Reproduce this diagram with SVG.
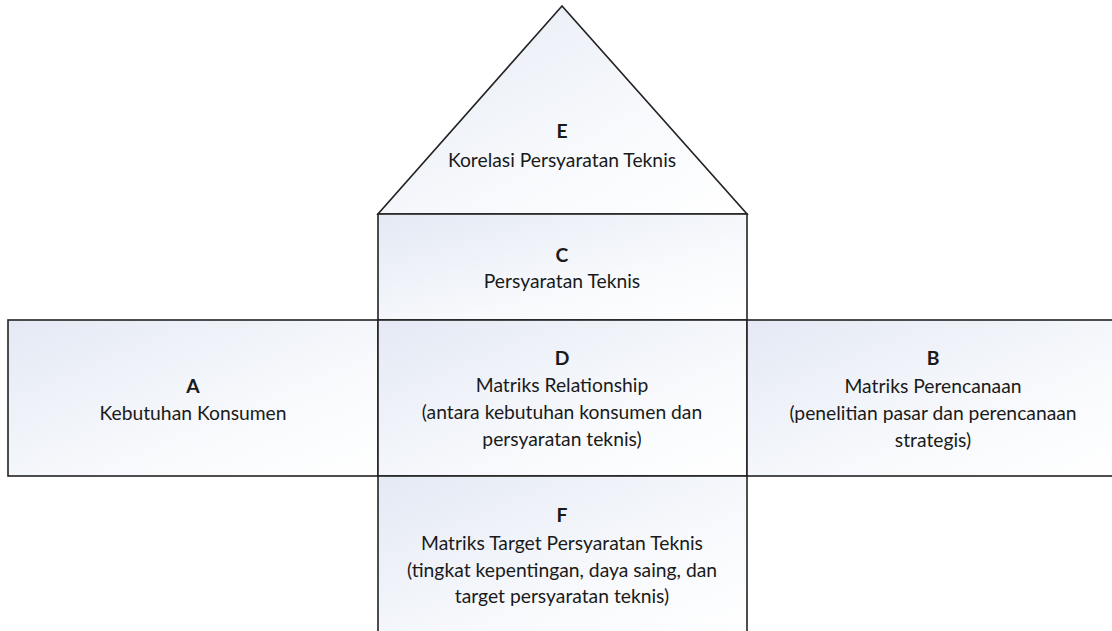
<svg xmlns="http://www.w3.org/2000/svg" width="1112" height="631" viewBox="0 0 1112 631">
  <defs>
    <linearGradient id="fillGrad" x1="0" y1="0" x2="1" y2="1">
      <stop offset="0" stop-color="#e4e9f4"/>
      <stop offset="0.6" stop-color="#f7f9fc"/>
      <stop offset="1" stop-color="#ffffff"/>
    </linearGradient>
  </defs>
  <style>
    .shape { fill: url(#fillGrad); stroke: #222222; stroke-width: 1.6; }
    .t { font-family: Lato, "Open Sans", "Liberation Sans", sans-serif; font-size: 19.3px; fill: #1a1a1a; text-anchor: middle; }
    .b { font-weight: bold; }
  </style>
  <rect width="1112" height="631" fill="#ffffff"/>

  <g id="node-E">
    <polygon class="shape" points="562,6 378,214 747,214"/>
    <text class="t b" x="562" y="138">E</text>
    <text class="t" x="562" y="167">Korelasi Persyaratan Teknis</text>
  </g>

  <g id="node-C">
    <rect class="shape" x="378" y="214" width="369" height="106"/>
    <text class="t b" x="562" y="262">C</text>
    <text class="t" x="562" y="288">Persyaratan Teknis</text>
  </g>

  <g id="node-A">
    <rect class="shape" x="8" y="320" width="370" height="156"/>
    <text class="t b" x="193" y="393">A</text>
    <text class="t" x="193" y="420">Kebutuhan Konsumen</text>
  </g>

  <g id="node-D">
    <rect class="shape" x="378" y="320" width="369" height="156"/>
    <text class="t b" x="562" y="365">D</text>
    <text class="t" x="562" y="392">Matriks Relationship</text>
    <text class="t" x="562" y="419">(antara kebutuhan konsumen dan</text>
    <text class="t" x="562" y="446">persyaratan teknis)</text>
  </g>

  <g id="node-B">
    <rect class="shape" x="747" y="320" width="372" height="156"/>
    <text class="t b" x="933" y="365">B</text>
    <text class="t" x="933" y="393">Matriks Perencanaan</text>
    <text class="t" x="933" y="420">(penelitian pasar dan perencanaan</text>
    <text class="t" x="933" y="447">strategis)</text>
  </g>

  <g id="node-F">
    <rect class="shape" x="378" y="476" width="369" height="160"/>
    <text class="t b" x="562" y="522">F</text>
    <text class="t" x="562" y="550">Matriks Target Persyaratan Teknis</text>
    <text class="t" x="562" y="577">(tingkat kepentingan, daya saing, dan</text>
    <text class="t" x="562" y="603">target persyaratan teknis)</text>
  </g>

  <g id="connectors"/>
</svg>
